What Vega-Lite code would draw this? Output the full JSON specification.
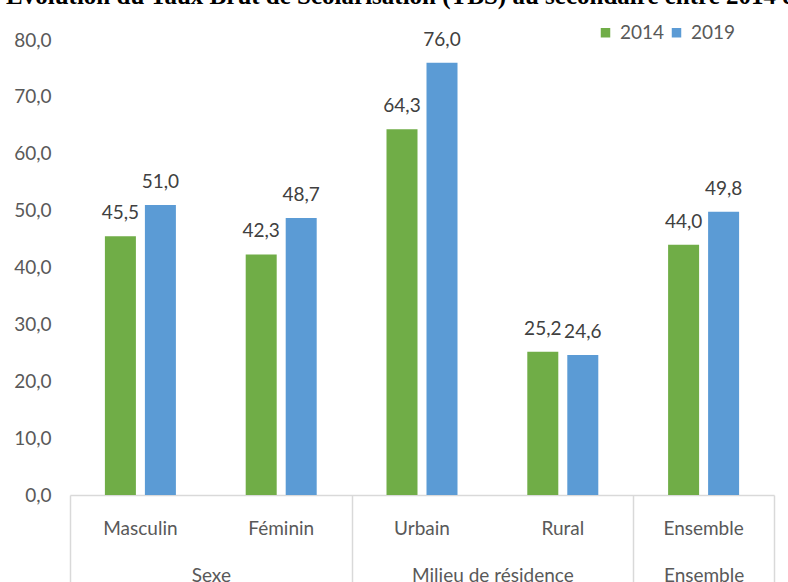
{
  "$schema": "https://vega.github.io/schema/vega-lite/v6.json",
  "width": 704,
  "height": 455,
  "autosize": {"type": "none"},
  "padding": {"left": 70, "top": 40, "right": 14, "bottom": 87},
  "background": "white",
  "title": {
    "text": "Évolution du Taux Brut de Scolarisation (TBS) au secondaire entre 2014 et 2019",
    "font": "Liberation Serif",
    "fontSize": 25,
    "fontWeight": "bold",
    "color": "#000000",
    "anchor": "middle",
    "dx": 10,
    "offset": 14
  },
  "config": {
    "locale": {"number": {"decimal": ",", "thousands": " ", "grouping": [3], "currency": ["", " €"]}},
    "view": {"stroke": null},
    "font": "Lato"
  },
  "data": {
    "values": [
      {"categorie": "Masculin", "groupe": "Sexe", "annee": "2014", "tbs": 45.5},
      {"categorie": "Masculin", "groupe": "Sexe", "annee": "2019", "tbs": 51.0},
      {"categorie": "Féminin", "groupe": "Sexe", "annee": "2014", "tbs": 42.3},
      {"categorie": "Féminin", "groupe": "Sexe", "annee": "2019", "tbs": 48.7},
      {"categorie": "Urbain", "groupe": "Milieu de résidence", "annee": "2014", "tbs": 64.3},
      {"categorie": "Urbain", "groupe": "Milieu de résidence", "annee": "2019", "tbs": 76.0},
      {"categorie": "Rural", "groupe": "Milieu de résidence", "annee": "2014", "tbs": 25.2},
      {"categorie": "Rural", "groupe": "Milieu de résidence", "annee": "2019", "tbs": 24.6},
      {"categorie": "Ensemble", "groupe": "Ensemble", "annee": "2014", "tbs": 44.0},
      {"categorie": "Ensemble", "groupe": "Ensemble", "annee": "2019", "tbs": 49.8}
    ]
  },
  "resolve": {"axis": {"x": "independent"}},
  "layer": [
    {
      "mark": {"type": "bar"},
      "encoding": {
        "x": {
          "field": "categorie",
          "type": "nominal",
          "sort": ["Masculin", "Féminin", "Urbain", "Rural", "Ensemble"],
          "scale": {"paddingInner": 0, "paddingOuter": 0},
          "axis": {
            "title": null,
            "orient": "bottom",
            "labelAngle": 0,
            "labelFont": "Lato",
            "labelFontSize": 19,
            "labelColor": "#595959",
            "labelPadding": 24,
            "labelBaseline": "top",
            "ticks": false,
            "tickSize": 0,
            "domain": true,
            "domainColor": "#D9D9D9",
            "domainWidth": 1.5,
            "grid": false
          }
        },
        "xOffset": {
          "field": "annee",
          "type": "nominal",
          "scale": {"paddingInner": 0.225, "paddingOuter": 0.8725}
        },
        "y": {
          "field": "tbs",
          "type": "quantitative",
          "scale": {"domain": [0, 80], "nice": false},
          "axis": {
            "title": null,
            "values": [0, 10, 20, 30, 40, 50, 60, 70, 80],
            "format": ".1f",
            "labelFont": "Lato",
            "labelFontSize": 19,
            "labelColor": "#595959",
            "labelPadding": 19,
            "ticks": false,
            "domain": false,
            "grid": false
          }
        },
        "color": {
          "field": "annee",
          "type": "nominal",
          "scale": {"domain": ["2014", "2019"], "range": ["#70AD47", "#5B9BD5"]},
          "legend": {
            "title": null,
            "orient": "none",
            "legendX": 526,
            "legendY": -17,
            "direction": "horizontal",
            "symbolType": "square",
            "symbolSize": 90,
            "symbolStrokeWidth": 0,
            "labelFont": "Lato",
            "labelFontSize": 19,
            "labelColor": "#595959",
            "labelOffset": 5,
            "columnPadding": 2,
            "padding": 0
          }
        }
      }
    },
    {
      "mark": {"type": "text", "baseline": "alphabetic", "dy": -17, "font": "Lato", "fontSize": 19, "color": "#404040"},
      "encoding": {
        "x": {
          "field": "categorie",
          "type": "nominal",
          "sort": ["Masculin", "Féminin", "Urbain", "Rural", "Ensemble"],
          "axis": {
            "title": null,
            "orient": "bottom",
            "labelAngle": 0,
            "labelExpr": "datum.value == 'Masculin' ? 'Sexe' : datum.value == 'Urbain' ? 'Milieu de résidence' : datum.value == 'Ensemble' ? 'Ensemble' : ''",
            "labelOffset": {"condition": {"test": "datum.value == 'Ensemble'", "value": 0}, "value": 70.4},
            "labelFont": "Lato",
            "labelFontSize": 19,
            "labelColor": "#595959",
            "labelLimit": 0,
            "labelBaseline": "top",
            "labelPadding": -16,
            "ticks": true,
            "tickBand": "extent",
            "tickSize": 87,
            "tickColor": "#D9D9D9",
            "tickWidth": 1.5,
            "tickOpacity": {"condition": {"test": "datum.value == 'Masculin' || datum.value == 'Urbain'", "value": 0}, "value": 1},
            "domain": false,
            "grid": false
          }
        },
        "xOffset": {"field": "annee", "type": "nominal"},
        "y": {"field": "tbs", "type": "quantitative"},
        "text": {"field": "tbs", "type": "quantitative", "format": ".1f"}
      }
    }
  ]
}
